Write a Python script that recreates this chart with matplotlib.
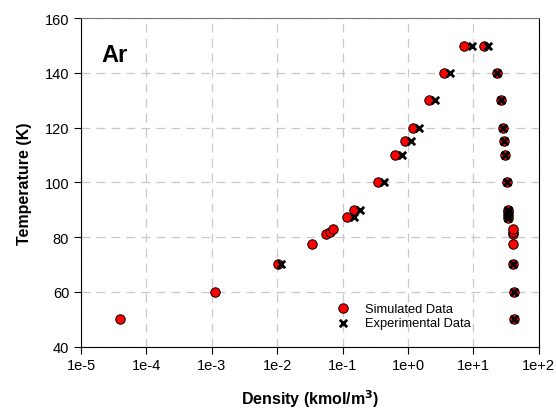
import numpy as np
import matplotlib.pyplot as plt

plt.rcParams['font.family'] = ['Liberation Sans', 'DejaVu Sans']

# simulated data (vapour branch then liquid branch)
sim_T_vap = [50, 60, 70, 77.5, 81, 82, 83, 87.3, 90, 100, 110, 115, 120, 130, 140, 150]
sim_rho_vap = [3.94e-5, 1.11e-3, 0.0102, 0.0341, 0.0564, 0.0632, 0.0713, 0.117, 0.151,
               0.343, 0.638, 0.916, 1.19, 2.11, 3.58, 7.2]
sim_T_liq = [50, 60, 70, 77.5, 81, 82, 83, 87, 88, 89, 90, 100, 110, 115, 120, 130, 140, 150]
sim_rho_liq = [42.5, 42.0, 40.8, 39.9, 39.9, 39.9, 39.9, 34.2, 34.2, 34.2, 34.2,
               32.4, 30.5, 29.7, 28.7, 26.5, 23.2, 14.7]

# experimental data
exp_T_vap = [70, 87.3, 90, 100, 110, 115, 120, 130, 140, 150]
exp_rho_vap = [0.0115, 0.149, 0.186, 0.423, 0.807, 1.12, 1.45, 2.55, 4.42, 9.46]
exp_T_liq = [50, 60, 70, 87, 88, 89, 90, 100, 110, 115, 120, 130, 140, 150]
exp_rho_liq = [42.5, 42.0, 40.8, 34.2, 34.2, 34.2, 34.2, 32.4, 30.5, 29.7, 28.7, 26.5, 23.2, 16.6]

xticks = [1e-5, 1e-4, 1e-3, 1e-2, 1e-1, 1e0, 1e1, 1e2]
xticklabels = ['1e-5', '1e-4', '1e-3', '1e-2', '1e-1', '1e+0', '1e+1', '1e+2']
yticks = [40, 60, 80, 100, 120, 140, 160]

fig = plt.figure(figsize=(5.56, 4.14), dpi=100)
ax = fig.add_axes([0.1457, 0.1606, 0.8233, 0.7928])

ax.set_xscale('log')
ax.set_xlim(1e-5, 1e2)
ax.set_ylim(40, 160)

ax.scatter(sim_rho_vap + sim_rho_liq, sim_T_vap + sim_T_liq, s=46, c='#ff0000',
           edgecolors='black', linewidths=0.7, zorder=3, label='Simulated Data')
ax.scatter(exp_rho_vap + exp_rho_liq, exp_T_vap + exp_T_liq, s=28, marker='x',
           c='black', linewidths=2.0, zorder=4, label='Experimental Data')

ax.set_xticks(xticks)
ax.set_xticklabels(xticklabels)
ax.xaxis.set_minor_locator(plt.NullLocator())
ax.set_yticks(yticks)
ax.tick_params(axis='both', direction='out', length=5, width=0.8, labelsize=10.5,
               top=False, right=False)

ax.grid(True, which='major', color='#c8c8c8', linestyle=(0, (7, 5)), linewidth=0.9)
ax.set_axisbelow(True)

ax.spines['top'].set_color('#777777')
for s in ['left', 'bottom', 'right']:
    ax.spines[s].set_color('black')

ax.set_xlabel('Density (kmol/m$^\\mathbf{3}$)', fontsize=11.5, fontweight='bold', labelpad=11)
ax.set_ylabel('Temperature (K)', fontsize=11.5, fontweight='bold', labelpad=9)

ax.text(0.045, 0.89, 'Ar', transform=ax.transAxes, fontsize=17, fontweight='bold',
        ha='left', va='center')

ax.legend(loc='lower left', bbox_to_anchor=(0.525, 0.025), frameon=False, fontsize=9.3,
          handletextpad=0.7, labelspacing=0.2, borderpad=0.2)

fig.savefig('out.png', dpi=100)
